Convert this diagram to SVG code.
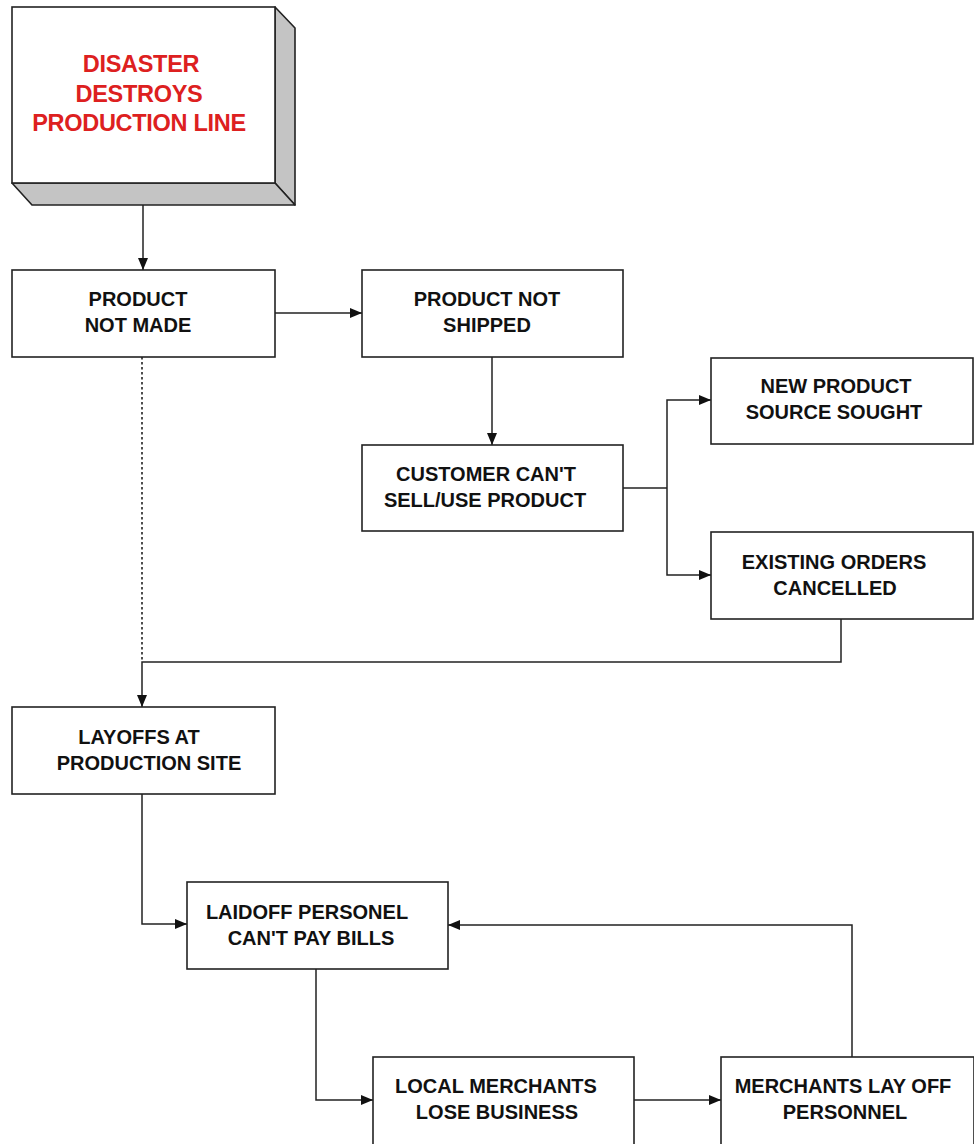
<svg xmlns="http://www.w3.org/2000/svg" width="974" height="1144" viewBox="0 0 974 1144">
<defs>
<marker id="ah" viewBox="0 0 12 10" refX="12" refY="5" markerWidth="12" markerHeight="10" markerUnits="userSpaceOnUse" orient="auto">
<path d="M0,0 L12,5 L0,10 Z" fill="#111"/>
</marker>
</defs>
<style>
.box{fill:#fff;stroke:#222;stroke-width:1.6}
.side{fill:#c4c4c4;stroke:#222;stroke-width:1.6;stroke-linejoin:round}
.t{font-family:"Liberation Sans",Arial,sans-serif;font-weight:bold;font-size:20px;fill:#111;text-anchor:middle;letter-spacing:0px}
.r{font-family:"Liberation Sans",Arial,sans-serif;font-weight:bold;font-size:23.5px;fill:#dd2020;text-anchor:middle;letter-spacing:-0.3px}
.c{fill:none;stroke:#222;stroke-width:1.5}
.d{fill:none;stroke:#222;stroke-width:1.6;stroke-dasharray:2.5 2.5}
</style>
<rect width="974" height="1144" fill="#fff"/>
<g id="connectors">
<path class="c" d="M143,183 V270" marker-end="url(#ah)"/>
<path class="c" d="M275,313 H362" marker-end="url(#ah)"/>
<path class="c" d="M492,357 V445" marker-end="url(#ah)"/>
<path class="c" d="M623,488 H667"/>
<path class="c" d="M667,488 V400 H711" marker-end="url(#ah)"/>
<path class="c" d="M667,488 V575 H711" marker-end="url(#ah)"/>
<path class="d" d="M142,357 V662"/>
<path class="c" d="M841,619 V662 H142 V707" marker-end="url(#ah)"/>
<path class="c" d="M142,794 V924 H187" marker-end="url(#ah)"/>
<path class="c" d="M316,969 V1100 H373" marker-end="url(#ah)"/>
<path class="c" d="M634,1100 H721" marker-end="url(#ah)"/>
<path class="c" d="M852,1057 V925 H448" marker-end="url(#ah)"/>
</g>
<g id="disaster">
<path class="side" d="M275,7 L295,28 L295,205 L275,183 Z"/>
<path class="side" d="M12,183 L275,183 L295,205 L32,205 Z"/>
<rect class="box" x="12" y="7" width="263" height="176"/>
<text class="r" x="141" y="72">DISASTER</text>
<text class="r" x="139" y="102">DESTROYS</text>
<text class="r" x="139" y="131">PRODUCTION LINE</text>
</g>
<g id="not-made">
<rect class="box" x="12" y="270" width="263" height="87"/>
<text class="t" x="138" y="306">PRODUCT</text>
<text class="t" x="138" y="332">NOT MADE</text>
</g>
<g id="not-shipped">
<rect class="box" x="362" y="270" width="261" height="87"/>
<text class="t" x="487" y="306">PRODUCT NOT</text>
<text class="t" x="487" y="332">SHIPPED</text>
</g>
<g id="customer">
<rect class="box" x="362" y="445" width="261" height="86"/>
<text class="t" x="486" y="481">CUSTOMER CAN'T</text>
<text class="t" x="485" y="507">SELL/USE PRODUCT</text>
</g>
<g id="new-source">
<rect class="box" x="711" y="358" width="262" height="86"/>
<text class="t" x="836" y="393">NEW PRODUCT</text>
<text class="t" x="834" y="419">SOURCE SOUGHT</text>
</g>
<g id="cancelled">
<rect class="box" x="711" y="532" width="262" height="87"/>
<text class="t" x="834" y="569">EXISTING ORDERS</text>
<text class="t" x="835" y="595">CANCELLED</text>
</g>
<g id="layoffs">
<rect class="box" x="12" y="707" width="263" height="87"/>
<text class="t" x="139" y="744">LAYOFFS AT</text>
<text class="t" x="149" y="770">PRODUCTION SITE</text>
</g>
<g id="bills">
<rect class="box" x="187" y="882" width="261" height="87"/>
<text class="t" x="307" y="919">LAIDOFF PERSONEL</text>
<text class="t" x="311" y="945">CAN'T PAY BILLS</text>
</g>
<g id="merchants">
<rect class="box" x="373" y="1057" width="261" height="88"/>
<text class="t" x="496" y="1093">LOCAL MERCHANTS</text>
<text class="t" x="497" y="1119">LOSE BUSINESS</text>
</g>
<g id="lay-off">
<rect class="box" x="721" y="1057" width="253" height="88"/>
<text class="t" x="843" y="1093">MERCHANTS LAY OFF</text>
<text class="t" x="845" y="1119">PERSONNEL</text>
</g>
</svg>
